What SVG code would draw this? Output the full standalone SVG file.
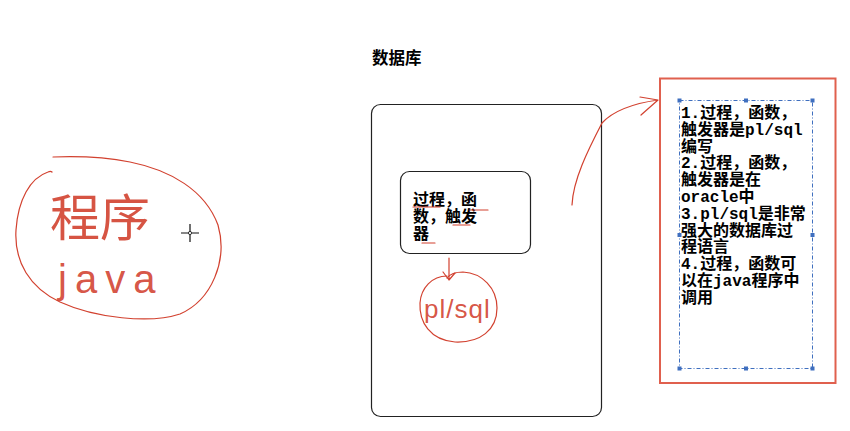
<svg xmlns="http://www.w3.org/2000/svg" width="850" height="431" viewBox="0 0 850 431">
<defs>
<style>
.ink{fill:none;stroke:#d2412f;stroke-width:1.2;stroke-linecap:round;stroke-linejoin:round}
.hand{fill:#d2412f;fill-opacity:0.9;font-family:"Liberation Sans","Noto Sans CJK SC",sans-serif}
.box{fill:#fff;stroke:#222;stroke-width:1.2}
.cn{font-family:"Liberation Mono","Noto Sans CJK SC",monospace;font-size:16px;fill:#000;font-weight:bold}
.handle{fill:#3f6fbf}
</style>
</defs>
<rect width="850" height="431" fill="#fff"/>

<g id="title">
<text x="372" y="64" font-family="Liberation Sans,'Noto Sans CJK SC',sans-serif" font-size="16.5" font-weight="bold" fill="#000">数据库</text>
</g>

<g id="database">
<rect class="box" x="371.5" y="104.5" width="230" height="312" rx="9"/>
</g>

<g id="proc-box">
<rect class="box" x="400.5" y="171.5" width="130" height="82" rx="9"/>
<text class="cn" x="413" y="205" font-size="17">过程，函</text>
<text class="cn" x="413" y="222" font-size="17">数，触发</text>
<text class="cn" x="413" y="239" font-size="17">器</text>
</g>

<g id="plsql">
<path class="ink" d="M447 276 C432 276 421 288 420 303 C419 322 430 340 455 342 C480 343 497 330 497 308 C497 288 482 273 463 272 C455 272 450 274 447 278"/>
<text class="hand" x="424" y="318" font-size="26" letter-spacing="1">pl/sql</text>
</g>

<g id="program">
<path class="ink" d="M53 157 C80 156 110 158 130 162 C170 170 205 190 218 225 C228 260 212 300 180 314 C150 324 95 318 60 302 C30 288 14 262 16 230 C18 200 30 178 48 172 C50 171 51 171 52 172"/>
<text class="hand" x="50" y="236" font-size="50">程序</text>
<text class="hand" x="58" y="293" font-size="40" letter-spacing="8">java</text>
<path d="M190 224 V242 M181 233 H199" stroke="#111" stroke-width="1.2" fill="none"/>
<circle cx="190" cy="233" r="1.6" fill="#fff" stroke="#111" stroke-width="0.8"/>
</g>

<g id="notes">
<rect x="660" y="78.5" width="175.5" height="304.5" fill="#fff" stroke="#e0604e" stroke-width="2"/>
<rect x="679.5" y="100.5" width="133" height="268" fill="none" stroke="#3f6fbf" stroke-width="1" stroke-dasharray="4 2 1 2"/>
<rect class="handle" x="677.5" y="98.5" width="4" height="4"/>
<rect class="handle" x="744" y="98.5" width="4" height="4"/>
<rect class="handle" x="810.5" y="98.5" width="4" height="4"/>
<rect class="handle" x="677.5" y="233" width="4" height="4"/>
<rect class="handle" x="810.5" y="233" width="4" height="4"/>
<rect class="handle" x="677.5" y="366.5" width="4" height="4"/>
<rect class="handle" x="744" y="366.5" width="4" height="4"/>
<rect class="handle" x="810.5" y="366.5" width="4" height="4"/>
<text class="cn" x="681" y="118">1.过程，函数，</text>
<text class="cn" x="681" y="134.8">触发器是pl/sql</text>
<text class="cn" x="681" y="151.6">编写</text>
<text class="cn" x="681" y="168.4">2.过程，函数，</text>
<text class="cn" x="681" y="185.2">触发器是在</text>
<text class="cn" x="681" y="202">oracle中</text>
<text class="cn" x="681" y="218.8">3.pl/sql是非常</text>
<text class="cn" x="681" y="235.6">强大的数据库过</text>
<text class="cn" x="681" y="252.4">程语言</text>
<text class="cn" x="681" y="269.2">4.过程，函数可</text>
<text class="cn" x="681" y="286">以在java程序中</text>
<text class="cn" x="681" y="302.8">调用</text>
</g>

<g id="connectors">
<path class="ink" d="M449 258 V280 M443 272 L449 280 L455 273"/>
<path class="ink" d="M572 205 C573 180 588 150 602 123 C612 112 630 104 658 100 M640 97 L658 100 L641 115"/>
<path class="ink" d="M413 207 H440 M470 210 H488 M453 225 H470 M422 243 H435"/>
</g>
</svg>
